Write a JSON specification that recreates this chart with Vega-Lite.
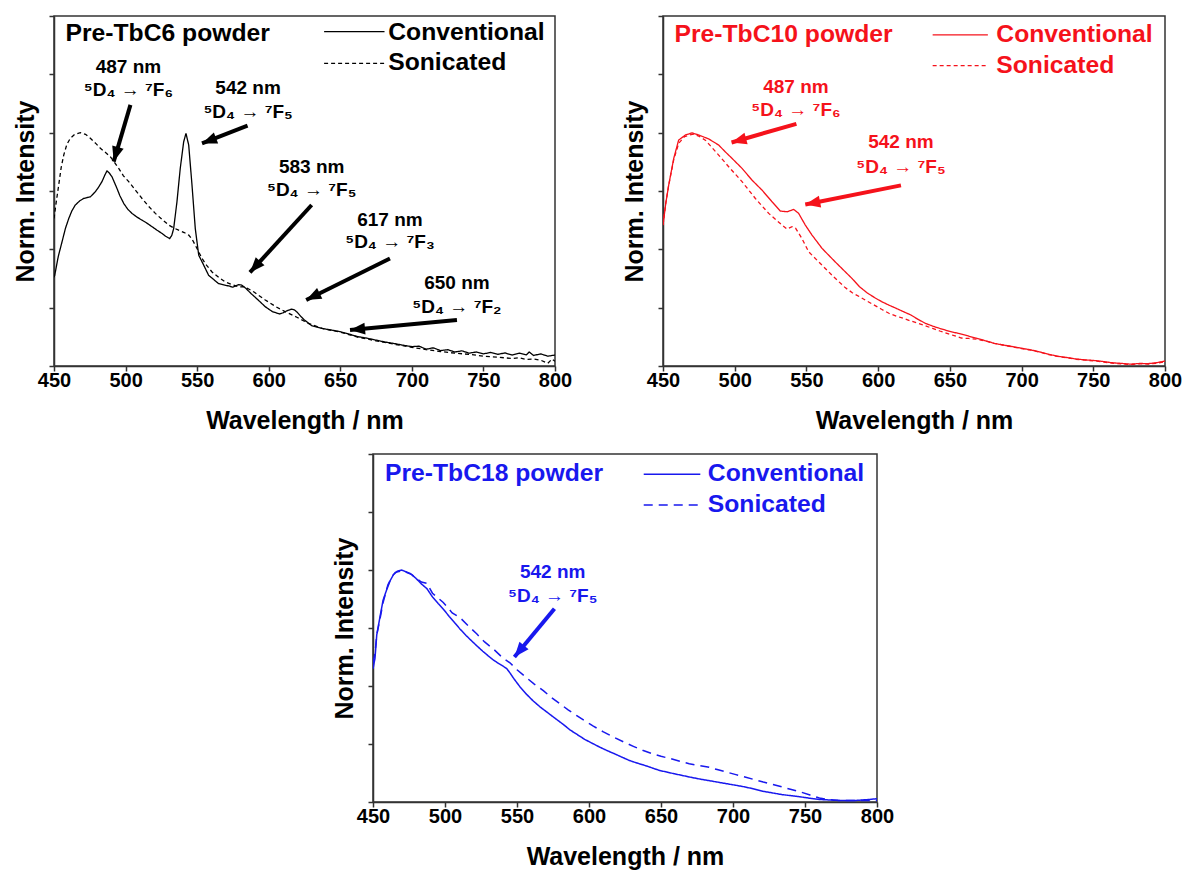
{
  "$schema": "https://vega.github.io/schema/vega-lite/v6.json",
  "padding": {"left": 12, "top": 14, "right": 5, "bottom": 5},
  "config": {
    "font": "Liberation Sans",
    "view": {"stroke": "#333", "strokeWidth": 1.5},
    "axis": {"domainColor": "#333", "domainWidth": 1.5, "tickColor": "#333", "tickWidth": 1.5, "tickSize": 5, "grid": false,
      "labelFont": "Liberation Sans", "labelFontSize": 20, "labelFontWeight": "bold", "labelColor": "#000",
      "titleFont": "Liberation Sans", "titleFontSize": 25, "titleFontWeight": "bold", "titleColor": "#000"},
    "axisX": {"labelPadding": -1, "titlePadding": 18, "labelFlush": false, "labelOverlap": false},
    "axisY": {"titlePadding": 10}
  },
  "datasets": {
    "c6": [
      {"wl":450,"val":0.38,"s":"C"},{"wl":450.5,"val":0.389,"s":"C"},{"wl":453,"val":0.47,"s":"C"},{"wl":455.6,"val":0.532,"s":"C"},{"wl":458,"val":0.59,"s":"C"},{"wl":460.3,"val":0.632,"s":"C"},{"wl":462.5,"val":0.665,"s":"C"},{"wl":464.9,"val":0.69,"s":"C"},{"wl":468,"val":0.708,"s":"C"},{"wl":470.7,"val":0.718,"s":"C"},{"wl":473,"val":0.722,"s":"C"},{"wl":475.4,"val":0.725,"s":"C"},{"wl":477,"val":0.735,"s":"C"},{"wl":478.9,"val":0.747,"s":"C"},{"wl":481,"val":0.765,"s":"C"},{"wl":483.5,"val":0.79,"s":"C"},{"wl":485.5,"val":0.818,"s":"C"},{"wl":487,"val":0.836,"s":"C"},{"wl":488.5,"val":0.828,"s":"C"},{"wl":490.5,"val":0.811,"s":"C"},{"wl":494,"val":0.761,"s":"C"},{"wl":496,"val":0.73,"s":"C"},{"wl":498.7,"val":0.697,"s":"C"},{"wl":501.5,"val":0.672,"s":"C"},{"wl":504.5,"val":0.654,"s":"C"},{"wl":508,"val":0.638,"s":"C"},{"wl":511.5,"val":0.625,"s":"C"},{"wl":515,"val":0.612,"s":"C"},{"wl":518.5,"val":0.597,"s":"C"},{"wl":522,"val":0.582,"s":"C"},{"wl":525.5,"val":0.568,"s":"C"},{"wl":528,"val":0.556,"s":"C"},{"wl":530.8,"val":0.546,"s":"C"},{"wl":532.3,"val":0.56,"s":"C"},{"wl":533.6,"val":0.589,"s":"C"},{"wl":535.9,"val":0.704,"s":"C"},{"wl":538.2,"val":0.847,"s":"C"},{"wl":540.6,"val":0.961,"s":"C"},{"wl":542.2,"val":0.997,"s":"C"},{"wl":544.1,"val":0.947,"s":"C"},{"wl":546.4,"val":0.776,"s":"C"},{"wl":548.7,"val":0.589,"s":"C"},{"wl":551.1,"val":0.475,"s":"C"},{"wl":554.6,"val":0.432,"s":"C"},{"wl":558,"val":0.389,"s":"C"},{"wl":565,"val":0.353,"s":"C"},{"wl":572,"val":0.343,"s":"C"},{"wl":575,"val":0.338,"s":"C"},{"wl":579,"val":0.349,"s":"C"},{"wl":581,"val":0.347,"s":"C"},{"wl":584,"val":0.333,"s":"C"},{"wl":587.6,"val":0.311,"s":"C"},{"wl":592.6,"val":0.283,"s":"C"},{"wl":597.6,"val":0.254,"s":"C"},{"wl":602.6,"val":0.233,"s":"C"},{"wl":607.6,"val":0.223,"s":"C"},{"wl":610,"val":0.228,"s":"C"},{"wl":612.5,"val":0.236,"s":"C"},{"wl":616,"val":0.244,"s":"C"},{"wl":618,"val":0.24,"s":"C"},{"wl":620,"val":0.23,"s":"C"},{"wl":622.5,"val":0.212,"s":"C"},{"wl":625,"val":0.197,"s":"C"},{"wl":630,"val":0.173,"s":"C"},{"wl":637,"val":0.161,"s":"C"},{"wl":643,"val":0.155,"s":"C"},{"wl":650,"val":0.147,"s":"C"},{"wl":656,"val":0.137,"s":"C"},{"wl":662,"val":0.126,"s":"C"},{"wl":668,"val":0.12,"s":"C"},{"wl":675,"val":0.111,"s":"C"},{"wl":681,"val":0.103,"s":"C"},{"wl":687,"val":0.097,"s":"C"},{"wl":693,"val":0.09,"s":"C"},{"wl":700,"val":0.083,"s":"C"},{"wl":705,"val":0.085,"s":"C"},{"wl":710,"val":0.072,"s":"C"},{"wl":715,"val":0.078,"s":"C"},{"wl":720,"val":0.066,"s":"C"},{"wl":725,"val":0.07,"s":"C"},{"wl":730,"val":0.06,"s":"C"},{"wl":735,"val":0.065,"s":"C"},{"wl":740,"val":0.055,"s":"C"},{"wl":745,"val":0.06,"s":"C"},{"wl":750,"val":0.052,"s":"C"},{"wl":755,"val":0.058,"s":"C"},{"wl":760,"val":0.05,"s":"C"},{"wl":765,"val":0.056,"s":"C"},{"wl":770,"val":0.047,"s":"C"},{"wl":775,"val":0.055,"s":"C"},{"wl":780,"val":0.048,"s":"C"},{"wl":782,"val":0.06,"s":"C"},{"wl":785,"val":0.045,"s":"C"},{"wl":790,"val":0.052,"s":"C"},{"wl":795,"val":0.042,"s":"C"},{"wl":800,"val":0.047,"s":"C"},
      {"wl":450,"val":0.632,"s":"S"},{"wl":451.5,"val":0.7,"s":"S"},{"wl":453.3,"val":0.776,"s":"S"},{"wl":455,"val":0.85,"s":"S"},{"wl":456.8,"val":0.904,"s":"S"},{"wl":459,"val":0.95,"s":"S"},{"wl":461.4,"val":0.976,"s":"S"},{"wl":464.5,"val":0.993,"s":"S"},{"wl":468.4,"val":1.0,"s":"S"},{"wl":472,"val":0.993,"s":"S"},{"wl":475.4,"val":0.976,"s":"S"},{"wl":479,"val":0.955,"s":"S"},{"wl":482.4,"val":0.933,"s":"S"},{"wl":486,"val":0.915,"s":"S"},{"wl":489.3,"val":0.897,"s":"S"},{"wl":492,"val":0.875,"s":"S"},{"wl":495.2,"val":0.847,"s":"S"},{"wl":498.5,"val":0.815,"s":"S"},{"wl":502.2,"val":0.79,"s":"S"},{"wl":507,"val":0.753,"s":"S"},{"wl":511.5,"val":0.718,"s":"S"},{"wl":516,"val":0.685,"s":"S"},{"wl":520.8,"val":0.654,"s":"S"},{"wl":525.5,"val":0.628,"s":"S"},{"wl":530.1,"val":0.604,"s":"S"},{"wl":533.5,"val":0.592,"s":"S"},{"wl":537.1,"val":0.582,"s":"S"},{"wl":541,"val":0.572,"s":"S"},{"wl":544.1,"val":0.561,"s":"S"},{"wl":546.5,"val":0.543,"s":"S"},{"wl":548.7,"val":0.518,"s":"S"},{"wl":551,"val":0.49,"s":"S"},{"wl":553.4,"val":0.461,"s":"S"},{"wl":556.8,"val":0.43,"s":"S"},{"wl":560.4,"val":0.403,"s":"S"},{"wl":565,"val":0.38,"s":"S"},{"wl":569.7,"val":0.36,"s":"S"},{"wl":574,"val":0.35,"s":"S"},{"wl":579,"val":0.339,"s":"S"},{"wl":582.7,"val":0.34,"s":"S"},{"wl":586,"val":0.33,"s":"S"},{"wl":590,"val":0.316,"s":"S"},{"wl":597.6,"val":0.283,"s":"S"},{"wl":605,"val":0.254,"s":"S"},{"wl":612.5,"val":0.23,"s":"S"},{"wl":620,"val":0.208,"s":"S"},{"wl":627.6,"val":0.183,"s":"S"},{"wl":637.4,"val":0.161,"s":"S"},{"wl":650,"val":0.145,"s":"S"},{"wl":662,"val":0.124,"s":"S"},{"wl":675,"val":0.108,"s":"S"},{"wl":687,"val":0.094,"s":"S"},{"wl":700,"val":0.08,"s":"S"},{"wl":710,"val":0.07,"s":"S"},{"wl":720,"val":0.062,"s":"S"},{"wl":730,"val":0.055,"s":"S"},{"wl":740,"val":0.05,"s":"S"},{"wl":750,"val":0.042,"s":"S"},{"wl":760,"val":0.038,"s":"S"},{"wl":770,"val":0.032,"s":"S"},{"wl":775,"val":0.035,"s":"S"},{"wl":780,"val":0.028,"s":"S"},{"wl":785,"val":0.03,"s":"S"},{"wl":790,"val":0.025,"s":"S"},{"wl":795,"val":0.012,"s":"S"},{"wl":798,"val":0.03,"s":"S"},{"wl":800,"val":0.02,"s":"S"}
    ],
    "c10": [
      {"wl":450,"val":0.604,"s":"C"},{"wl":452,"val":0.7,"s":"C"},{"wl":454,"val":0.776,"s":"C"},{"wl":457.5,"val":0.89,"s":"C"},{"wl":460.9,"val":0.968,"s":"C"},{"wl":465.6,"val":0.99,"s":"C"},{"wl":470.2,"val":0.999,"s":"C"},{"wl":474.9,"val":0.99,"s":"C"},{"wl":481.9,"val":0.973,"s":"C"},{"wl":488.8,"val":0.947,"s":"C"},{"wl":493.4,"val":0.918,"s":"C"},{"wl":498.1,"val":0.89,"s":"C"},{"wl":505.1,"val":0.847,"s":"C"},{"wl":512,"val":0.797,"s":"C"},{"wl":519,"val":0.754,"s":"C"},{"wl":526,"val":0.704,"s":"C"},{"wl":531.8,"val":0.664,"s":"C"},{"wl":536.5,"val":0.661,"s":"C"},{"wl":541.1,"val":0.671,"s":"C"},{"wl":544.6,"val":0.654,"s":"C"},{"wl":549.2,"val":0.604,"s":"C"},{"wl":553.9,"val":0.561,"s":"C"},{"wl":560.9,"val":0.504,"s":"C"},{"wl":570.1,"val":0.446,"s":"C"},{"wl":581.8,"val":0.375,"s":"C"},{"wl":587,"val":0.34,"s":"C"},{"wl":592.2,"val":0.314,"s":"C"},{"wl":597.3,"val":0.294,"s":"C"},{"wl":602.4,"val":0.276,"s":"C"},{"wl":607.5,"val":0.261,"s":"C"},{"wl":612.6,"val":0.247,"s":"C"},{"wl":617.6,"val":0.233,"s":"C"},{"wl":622.7,"val":0.219,"s":"C"},{"wl":627.8,"val":0.2,"s":"C"},{"wl":632.9,"val":0.183,"s":"C"},{"wl":638,"val":0.171,"s":"C"},{"wl":643,"val":0.161,"s":"C"},{"wl":649,"val":0.15,"s":"C"},{"wl":655.7,"val":0.14,"s":"C"},{"wl":662,"val":0.13,"s":"C"},{"wl":668.4,"val":0.119,"s":"C"},{"wl":675,"val":0.108,"s":"C"},{"wl":681,"val":0.097,"s":"C"},{"wl":687,"val":0.09,"s":"C"},{"wl":693.8,"val":0.083,"s":"C"},{"wl":700,"val":0.076,"s":"C"},{"wl":706.5,"val":0.069,"s":"C"},{"wl":713,"val":0.06,"s":"C"},{"wl":719,"val":0.05,"s":"C"},{"wl":725,"val":0.042,"s":"C"},{"wl":732,"val":0.036,"s":"C"},{"wl":738,"val":0.03,"s":"C"},{"wl":744.6,"val":0.026,"s":"C"},{"wl":750,"val":0.024,"s":"C"},{"wl":757.3,"val":0.019,"s":"C"},{"wl":763,"val":0.014,"s":"C"},{"wl":770,"val":0.011,"s":"C"},{"wl":776,"val":0.008,"s":"C"},{"wl":782.7,"val":0.011,"s":"C"},{"wl":788,"val":0.01,"s":"C"},{"wl":794,"val":0.014,"s":"C"},{"wl":800,"val":0.021,"s":"C"},
      {"wl":450,"val":0.604,"s":"S"},{"wl":452,"val":0.7,"s":"S"},{"wl":454,"val":0.776,"s":"S"},{"wl":457.5,"val":0.885,"s":"S"},{"wl":461,"val":0.955,"s":"S"},{"wl":465,"val":0.983,"s":"S"},{"wl":471,"val":0.994,"s":"S"},{"wl":475,"val":0.985,"s":"S"},{"wl":479.5,"val":0.968,"s":"S"},{"wl":484,"val":0.937,"s":"S"},{"wl":488.8,"val":0.904,"s":"S"},{"wl":495.8,"val":0.854,"s":"S"},{"wl":505.1,"val":0.79,"s":"S"},{"wl":514.4,"val":0.718,"s":"S"},{"wl":523.7,"val":0.654,"s":"S"},{"wl":533,"val":0.604,"s":"S"},{"wl":536.5,"val":0.587,"s":"S"},{"wl":540,"val":0.597,"s":"S"},{"wl":542.5,"val":0.59,"s":"S"},{"wl":546.9,"val":0.546,"s":"S"},{"wl":551.6,"val":0.489,"s":"S"},{"wl":560.9,"val":0.432,"s":"S"},{"wl":569,"val":0.382,"s":"S"},{"wl":577,"val":0.336,"s":"S"},{"wl":582,"val":0.314,"s":"S"},{"wl":587,"val":0.297,"s":"S"},{"wl":592,"val":0.279,"s":"S"},{"wl":597.3,"val":0.261,"s":"S"},{"wl":602.4,"val":0.243,"s":"S"},{"wl":607.5,"val":0.226,"s":"S"},{"wl":612.6,"val":0.214,"s":"S"},{"wl":617.6,"val":0.204,"s":"S"},{"wl":622.7,"val":0.193,"s":"S"},{"wl":627.8,"val":0.183,"s":"S"},{"wl":633,"val":0.172,"s":"S"},{"wl":638,"val":0.161,"s":"S"},{"wl":643,"val":0.15,"s":"S"},{"wl":648,"val":0.14,"s":"S"},{"wl":653,"val":0.13,"s":"S"},{"wl":658,"val":0.12,"s":"S"},{"wl":663,"val":0.118,"s":"S"},{"wl":668.4,"val":0.115,"s":"S"},{"wl":675,"val":0.107,"s":"S"},{"wl":681,"val":0.097,"s":"S"},{"wl":687,"val":0.09,"s":"S"},{"wl":693.8,"val":0.082,"s":"S"},{"wl":700,"val":0.075,"s":"S"},{"wl":706.5,"val":0.068,"s":"S"},{"wl":713,"val":0.059,"s":"S"},{"wl":719,"val":0.049,"s":"S"},{"wl":725,"val":0.041,"s":"S"},{"wl":732,"val":0.035,"s":"S"},{"wl":738,"val":0.029,"s":"S"},{"wl":744.6,"val":0.025,"s":"S"},{"wl":750,"val":0.022,"s":"S"},{"wl":757.3,"val":0.017,"s":"S"},{"wl":763,"val":0.012,"s":"S"},{"wl":770,"val":0.009,"s":"S"},{"wl":776,"val":0.006,"s":"S"},{"wl":782.7,"val":0.01,"s":"S"},{"wl":788,"val":0.008,"s":"S"},{"wl":794,"val":0.012,"s":"S"},{"wl":800,"val":0.018,"s":"S"}
    ],
    "c18": [
      {"wl":450,"val":0.574,"s":"C"},{"wl":451.4,"val":0.62,"s":"C"},{"wl":452.6,"val":0.72,"s":"C"},{"wl":454.9,"val":0.8,"s":"C"},{"wl":457,"val":0.87,"s":"C"},{"wl":459.5,"val":0.915,"s":"C"},{"wl":462,"val":0.955,"s":"C"},{"wl":464.2,"val":0.98,"s":"C"},{"wl":467,"val":0.995,"s":"C"},{"wl":469.9,"val":1.0,"s":"C"},{"wl":475.8,"val":0.985,"s":"C"},{"wl":479.7,"val":0.965,"s":"C"},{"wl":483.6,"val":0.94,"s":"C"},{"wl":487.4,"val":0.92,"s":"C"},{"wl":491.3,"val":0.884,"s":"C"},{"wl":495.2,"val":0.856,"s":"C"},{"wl":499,"val":0.83,"s":"C"},{"wl":502.9,"val":0.8,"s":"C"},{"wl":506.8,"val":0.772,"s":"C"},{"wl":510.5,"val":0.745,"s":"C"},{"wl":514.6,"val":0.718,"s":"C"},{"wl":518.4,"val":0.695,"s":"C"},{"wl":522.3,"val":0.672,"s":"C"},{"wl":526.2,"val":0.65,"s":"C"},{"wl":530,"val":0.63,"s":"C"},{"wl":534,"val":0.61,"s":"C"},{"wl":537.8,"val":0.595,"s":"C"},{"wl":540.5,"val":0.585,"s":"C"},{"wl":543,"val":0.574,"s":"C"},{"wl":545.5,"val":0.553,"s":"C"},{"wl":548,"val":0.53,"s":"C"},{"wl":552,"val":0.497,"s":"C"},{"wl":556.5,"val":0.465,"s":"C"},{"wl":561,"val":0.437,"s":"C"},{"wl":566,"val":0.41,"s":"C"},{"wl":571.3,"val":0.385,"s":"C"},{"wl":576.6,"val":0.36,"s":"C"},{"wl":582,"val":0.335,"s":"C"},{"wl":587,"val":0.31,"s":"C"},{"wl":592,"val":0.29,"s":"C"},{"wl":597,"val":0.27,"s":"C"},{"wl":602.3,"val":0.253,"s":"C"},{"wl":607.6,"val":0.236,"s":"C"},{"wl":612.8,"val":0.221,"s":"C"},{"wl":618,"val":0.207,"s":"C"},{"wl":623,"val":0.193,"s":"C"},{"wl":628,"val":0.179,"s":"C"},{"wl":633.3,"val":0.168,"s":"C"},{"wl":638.6,"val":0.158,"s":"C"},{"wl":643.8,"val":0.147,"s":"C"},{"wl":649,"val":0.136,"s":"C"},{"wl":654,"val":0.129,"s":"C"},{"wl":659,"val":0.122,"s":"C"},{"wl":664.3,"val":0.115,"s":"C"},{"wl":669.6,"val":0.108,"s":"C"},{"wl":676,"val":0.1,"s":"C"},{"wl":682.5,"val":0.093,"s":"C"},{"wl":689,"val":0.086,"s":"C"},{"wl":695.4,"val":0.079,"s":"C"},{"wl":702,"val":0.072,"s":"C"},{"wl":708.3,"val":0.065,"s":"C"},{"wl":714.6,"val":0.056,"s":"C"},{"wl":721,"val":0.046,"s":"C"},{"wl":727.5,"val":0.039,"s":"C"},{"wl":734,"val":0.032,"s":"C"},{"wl":740.5,"val":0.027,"s":"C"},{"wl":747,"val":0.022,"s":"C"},{"wl":753.5,"val":0.016,"s":"C"},{"wl":760,"val":0.011,"s":"C"},{"wl":766.5,"val":0.009,"s":"C"},{"wl":773,"val":0.007,"s":"C"},{"wl":779.5,"val":0.006,"s":"C"},{"wl":785.8,"val":0.007,"s":"C"},{"wl":793,"val":0.01,"s":"C"},{"wl":800,"val":0.014,"s":"C"},
      {"wl":450,"val":0.6,"s":"S"},{"wl":451.4,"val":0.64,"s":"S"},{"wl":452.6,"val":0.72,"s":"S"},{"wl":454.9,"val":0.79,"s":"S"},{"wl":457,"val":0.86,"s":"S"},{"wl":460.3,"val":0.935,"s":"S"},{"wl":463,"val":0.97,"s":"S"},{"wl":465.5,"val":0.99,"s":"S"},{"wl":470.7,"val":0.997,"s":"S"},{"wl":477,"val":0.98,"s":"S"},{"wl":483.6,"val":0.948,"s":"S"},{"wl":487.3,"val":0.943,"s":"S"},{"wl":491.3,"val":0.9,"s":"S"},{"wl":498.8,"val":0.86,"s":"S"},{"wl":505,"val":0.815,"s":"S"},{"wl":510.4,"val":0.795,"s":"S"},{"wl":516,"val":0.76,"s":"S"},{"wl":522,"val":0.725,"s":"S"},{"wl":527.5,"val":0.69,"s":"S"},{"wl":533.5,"val":0.66,"s":"S"},{"wl":540,"val":0.622,"s":"S"},{"wl":545.1,"val":0.6,"s":"S"},{"wl":550,"val":0.57,"s":"S"},{"wl":556.7,"val":0.535,"s":"S"},{"wl":562,"val":0.508,"s":"S"},{"wl":568.3,"val":0.48,"s":"S"},{"wl":574,"val":0.45,"s":"S"},{"wl":579.9,"val":0.423,"s":"S"},{"wl":585.5,"val":0.397,"s":"S"},{"wl":591.5,"val":0.372,"s":"S"},{"wl":597,"val":0.35,"s":"S"},{"wl":603,"val":0.327,"s":"S"},{"wl":610,"val":0.302,"s":"S"},{"wl":616.9,"val":0.28,"s":"S"},{"wl":624.4,"val":0.258,"s":"S"},{"wl":630.8,"val":0.24,"s":"S"},{"wl":637.2,"val":0.223,"s":"S"},{"wl":643.7,"val":0.209,"s":"S"},{"wl":650,"val":0.197,"s":"S"},{"wl":656.6,"val":0.187,"s":"S"},{"wl":663,"val":0.176,"s":"S"},{"wl":669.6,"val":0.165,"s":"S"},{"wl":676,"val":0.158,"s":"S"},{"wl":682.5,"val":0.151,"s":"S"},{"wl":689,"val":0.14,"s":"S"},{"wl":695.4,"val":0.129,"s":"S"},{"wl":702,"val":0.118,"s":"S"},{"wl":708.3,"val":0.108,"s":"S"},{"wl":714.6,"val":0.097,"s":"S"},{"wl":721,"val":0.086,"s":"S"},{"wl":727.5,"val":0.076,"s":"S"},{"wl":734,"val":0.065,"s":"S"},{"wl":740.5,"val":0.054,"s":"S"},{"wl":747,"val":0.043,"s":"S"},{"wl":753.5,"val":0.03,"s":"S"},{"wl":760,"val":0.017,"s":"S"},{"wl":766.5,"val":0.01,"s":"S"},{"wl":773,"val":0.007,"s":"S"},{"wl":786,"val":0.006,"s":"S"},{"wl":800,"val":0.007,"s":"S"}
    ],
    "leg": [
      {"p":1,"s":"C","wl":638.7,"wl2":680.9,"val":1.433},{"p":1,"s":"S","wl":638.7,"wl2":680.9,"val":1.297},
      {"p":2,"s":"C","wl":638,"wl2":676.5,"val":1.419},{"p":2,"s":"S","wl":638,"wl2":676.5,"val":1.287},
      {"p":3,"s":"C","wl":638,"wl2":677.3,"val":1.413},{"p":3,"s":"S","wl":638,"wl2":677.3,"val":1.28}
    ],
    "ann": [
      {"p":1,"k":"head","wl":458,"val":1.423,"t":"Pre-TbC6 powder"},
      {"p":1,"k":"head","wl":683.5,"val":1.428,"t":"Conventional"},
      {"p":1,"k":"head","wl":683.5,"val":1.297,"t":"Sonicated"},
      {"p":1,"k":"note","wl":502,"val":1.283,"t":"487 nm"},
      {"p":1,"k":"note","wl":502,"val":1.183,"t":"⁵D₄ → ⁷F₆"},
      {"p":1,"k":"note","wl":585.6,"val":1.193,"t":"542 nm"},
      {"p":1,"k":"note","wl":585.6,"val":1.09,"t":"⁵D₄ → ⁷F₅"},
      {"p":1,"k":"note","wl":630,"val":0.851,"t":"583 nm"},
      {"p":1,"k":"note","wl":630,"val":0.754,"t":"⁵D₄ → ⁷F₅"},
      {"p":1,"k":"note","wl":684.7,"val":0.626,"t":"617 nm"},
      {"p":1,"k":"note","wl":684.7,"val":0.53,"t":"⁵D₄ → ⁷F₃"},
      {"p":1,"k":"note","wl":731.5,"val":0.354,"t":"650 nm"},
      {"p":1,"k":"note","wl":731.5,"val":0.254,"t":"⁵D₄ → ⁷F₂"},
      {"p":2,"k":"head","wl":458,"val":1.419,"t":"Pre-TbC10 powder"},
      {"p":2,"k":"head","wl":682.4,"val":1.419,"t":"Conventional"},
      {"p":2,"k":"head","wl":682.4,"val":1.287,"t":"Sonicated"},
      {"p":2,"k":"note","wl":542.7,"val":1.197,"t":"487 nm"},
      {"p":2,"k":"note","wl":542.7,"val":1.097,"t":"⁵D₄ → ⁷F₆"},
      {"p":2,"k":"note","wl":615.9,"val":0.959,"t":"542 nm"},
      {"p":2,"k":"note","wl":615.9,"val":0.854,"t":"⁵D₄ → ⁷F₅"},
      {"p":3,"k":"head","wl":458.3,"val":1.413,"t":"Pre-TbC18 powder"},
      {"p":3,"k":"head","wl":682.5,"val":1.413,"t":"Conventional"},
      {"p":3,"k":"head","wl":682.5,"val":1.28,"t":"Sonicated"},
      {"p":3,"k":"note","wl":574.8,"val":0.993,"t":"542 nm"},
      {"p":3,"k":"note","wl":574.8,"val":0.887,"t":"⁵D₄ → ⁷F₅"}
    ],
    "arr": [
      {"p":1,"id":"a1","wl":503.4,"val":1.119,"wl2":491.7,"val2":0.876},
      {"p":1,"id":"a2","wl":585.2,"val":1.03,"wl2":553.4,"val2":0.954},
      {"p":1,"id":"a3","wl":630,"val":0.69,"wl2":586.9,"val2":0.401},
      {"p":1,"id":"a4","wl":684.7,"val":0.461,"wl2":626.2,"val2":0.283},
      {"p":1,"id":"a5","wl":731.5,"val":0.197,"wl2":656.8,"val2":0.154},
      {"p":2,"id":"b1","wl":543,"val":1.038,"wl2":497.8,"val2":0.958},
      {"p":2,"id":"b2","wl":615.9,"val":0.774,"wl2":549.2,"val2":0.692},
      {"p":3,"id":"c1","wl":576,"val":0.833,"wl2":548.2,"val2":0.625}
    ]
  },
  "spacing": 18,
  "resolve": {"scale": {"strokeDash": "independent"}},
  "vconcat": [
    {
      "resolve": {"scale": {"strokeDash": "independent"}},
      "hconcat": [
        {
          "width": 501, "height": 350,
          "layer": [
            {"data": {"name": "c6"}, "mark": {"type": "line", "color": "#000", "strokeWidth": 1.3, "clip": true},
             "encoding": {
               "x": {"field": "wl", "type": "quantitative", "scale": {"domain": [450, 800], "nice": false, "zero": false},
                     "axis": {"title": "Wavelength / nm", "values": [450,475,500,525,550,575,600,625,650,675,700,725,750,775,800], "labelExpr": "datum.value % 50 == 0 ? datum.label : ''"}},
               "y": {"field": "val", "type": "quantitative", "scale": {"domain": [0, 1.5], "nice": false},
                     "axis": {"title": "Norm. Intensity", "values": [0,0.25,0.5,0.75,1,1.25,1.5], "labels": false}},
               "strokeDash": {"field": "s", "type": "nominal", "scale": {"domain": ["C","S"], "range": [[1,0],[4,3]]}, "legend": null}}},
            {"data": {"name": "leg"}, "transform": [{"filter": "datum.p == 1"}], "mark": {"type": "rule", "color": "#000", "strokeWidth": 1.3},
             "encoding": {"x": {"field": "wl", "type": "quantitative"}, "x2": {"field": "wl2"}, "y": {"field": "val", "type": "quantitative"},
               "strokeDash": {"field": "s", "type": "nominal", "legend": null}}},
            {"data": {"name": "ann"}, "transform": [{"filter": "datum.p == 1 && datum.k == 'head'"}],
             "mark": {"type": "text", "align": "left", "baseline": "middle", "fontSize": 24.7, "fontWeight": "bold", "color": "#000"},
             "encoding": {"x": {"field": "wl", "type": "quantitative"}, "y": {"field": "val", "type": "quantitative"}, "text": {"field": "t"}}},
            {"data": {"name": "ann"}, "transform": [{"filter": "datum.p == 1 && datum.k == 'note'"}],
             "mark": {"type": "text", "align": "center", "baseline": "middle", "fontSize": 19, "fontWeight": "bold", "color": "#000"},
             "encoding": {"x": {"field": "wl", "type": "quantitative"}, "y": {"field": "val", "type": "quantitative"}, "text": {"field": "t"}}},
            {"data": {"name": "arr"}, "transform": [{"filter": "datum.p == 1"}], "mark": {"type": "rule", "color": "#000", "strokeWidth": 4},
             "encoding": {"x": {"field": "wl", "type": "quantitative"}, "y": {"field": "val", "type": "quantitative"}, "x2": {"field": "wl2"}, "y2": {"field": "val2"}}},
            {"data": {"name": "arr"}, "transform": [{"filter": "datum.id == 'a1'"}], "mark": {"type": "point", "shape": "M0,0L-0.75,1.9L0.75,1.9Z", "filled": true, "size": 250, "angle": 196.4, "color": "#000", "opacity": 1},
             "encoding": {"x": {"field": "wl2", "type": "quantitative"}, "y": {"field": "val2", "type": "quantitative"}}},
            {"data": {"name": "arr"}, "transform": [{"filter": "datum.id == 'a2'"}], "mark": {"type": "point", "shape": "M0,0L-0.75,1.9L0.75,1.9Z", "filled": true, "size": 250, "angle": 248.7, "color": "#000", "opacity": 1},
             "encoding": {"x": {"field": "wl2", "type": "quantitative"}, "y": {"field": "val2", "type": "quantitative"}}},
            {"data": {"name": "arr"}, "transform": [{"filter": "datum.id == 'a3'"}], "mark": {"type": "point", "shape": "M0,0L-0.75,1.9L0.75,1.9Z", "filled": true, "size": 250, "angle": 222.5, "color": "#000", "opacity": 1},
             "encoding": {"x": {"field": "wl2", "type": "quantitative"}, "y": {"field": "val2", "type": "quantitative"}}},
            {"data": {"name": "arr"}, "transform": [{"filter": "datum.id == 'a4'"}], "mark": {"type": "point", "shape": "M0,0L-0.75,1.9L0.75,1.9Z", "filled": true, "size": 250, "angle": 243.7, "color": "#000", "opacity": 1},
             "encoding": {"x": {"field": "wl2", "type": "quantitative"}, "y": {"field": "val2", "type": "quantitative"}}},
            {"data": {"name": "arr"}, "transform": [{"filter": "datum.id == 'a5'"}], "mark": {"type": "point", "shape": "M0,0L-0.75,1.9L0.75,1.9Z", "filled": true, "size": 250, "angle": 264.7, "color": "#000", "opacity": 1},
             "encoding": {"x": {"field": "wl2", "type": "quantitative"}, "y": {"field": "val2", "type": "quantitative"}}}
          ]
        },
        {
          "width": 502, "height": 350,
          "layer": [
            {"data": {"name": "c10"}, "mark": {"type": "line", "color": "#f5121b", "strokeWidth": 1.3, "clip": true},
             "encoding": {
               "x": {"field": "wl", "type": "quantitative", "scale": {"domain": [450, 800], "nice": false, "zero": false},
                     "axis": {"title": "Wavelength / nm", "values": [450,475,500,525,550,575,600,625,650,675,700,725,750,775,800], "labelExpr": "datum.value % 50 == 0 ? datum.label : ''"}},
               "y": {"field": "val", "type": "quantitative", "scale": {"domain": [0, 1.5], "nice": false},
                     "axis": {"title": "Norm. Intensity", "values": [0,0.25,0.5,0.75,1,1.25,1.5], "labels": false}},
               "strokeDash": {"field": "s", "type": "nominal", "scale": {"domain": ["C","S"], "range": [[1,0],[4,3]]}, "legend": null}}},
            {"data": {"name": "leg"}, "transform": [{"filter": "datum.p == 2"}], "mark": {"type": "rule", "color": "#f5121b", "strokeWidth": 1.3},
             "encoding": {"x": {"field": "wl", "type": "quantitative"}, "x2": {"field": "wl2"}, "y": {"field": "val", "type": "quantitative"},
               "strokeDash": {"field": "s", "type": "nominal", "legend": null}}},
            {"data": {"name": "ann"}, "transform": [{"filter": "datum.p == 2 && datum.k == 'head'"}],
             "mark": {"type": "text", "align": "left", "baseline": "middle", "fontSize": 24.7, "fontWeight": "bold", "color": "#f5121b"},
             "encoding": {"x": {"field": "wl", "type": "quantitative"}, "y": {"field": "val", "type": "quantitative"}, "text": {"field": "t"}}},
            {"data": {"name": "ann"}, "transform": [{"filter": "datum.p == 2 && datum.k == 'note'"}],
             "mark": {"type": "text", "align": "center", "baseline": "middle", "fontSize": 19, "fontWeight": "bold", "color": "#f5121b"},
             "encoding": {"x": {"field": "wl", "type": "quantitative"}, "y": {"field": "val", "type": "quantitative"}, "text": {"field": "t"}}},
            {"data": {"name": "arr"}, "transform": [{"filter": "datum.p == 2"}], "mark": {"type": "rule", "color": "#f5121b", "strokeWidth": 4},
             "encoding": {"x": {"field": "wl", "type": "quantitative"}, "y": {"field": "val", "type": "quantitative"}, "x2": {"field": "wl2"}, "y2": {"field": "val2"}}},
            {"data": {"name": "arr"}, "transform": [{"filter": "datum.id == 'b1'"}], "mark": {"type": "point", "shape": "M0,0L-0.75,1.9L0.75,1.9Z", "filled": true, "size": 250, "angle": 254.6, "color": "#f5121b", "opacity": 1},
             "encoding": {"x": {"field": "wl2", "type": "quantitative"}, "y": {"field": "val2", "type": "quantitative"}}},
            {"data": {"name": "arr"}, "transform": [{"filter": "datum.id == 'b2'"}], "mark": {"type": "point", "shape": "M0,0L-0.75,1.9L0.75,1.9Z", "filled": true, "size": 250, "angle": 259, "color": "#f5121b", "opacity": 1},
             "encoding": {"x": {"field": "wl2", "type": "quantitative"}, "y": {"field": "val2", "type": "quantitative"}}}
          ]
        }
      ],
      "spacing": 108,
      "bounds": "flush"
    },
    {
      "resolve": {"scale": {"strokeDash": "independent"}},
      "hconcat": [
        {"width": 319, "height": 348, "view": {"stroke": "transparent"}, "data": {"values": []}, "mark": "rule", "encoding": {}},
        {
          "width": 504, "height": 348,
          "layer": [
            {"data": {"name": "c18"}, "mark": {"type": "line", "color": "#1818ee", "strokeWidth": 1.5, "clip": true},
             "encoding": {
               "x": {"field": "wl", "type": "quantitative", "scale": {"domain": [450, 800], "nice": false, "zero": false},
                     "axis": {"title": "Wavelength / nm", "values": [450,475,500,525,550,575,600,625,650,675,700,725,750,775,800], "labelExpr": "datum.value % 50 == 0 ? datum.label : ''"}},
               "y": {"field": "val", "type": "quantitative", "scale": {"domain": [0, 1.5], "nice": false},
                     "axis": {"title": "Norm. Intensity", "values": [0,0.25,0.5,0.75,1,1.25,1.5], "labels": false}},
               "strokeDash": {"field": "s", "type": "nominal", "scale": {"domain": ["C","S"], "range": [[1,0],[9,6]]}, "legend": null}}},
            {"data": {"name": "leg"}, "transform": [{"filter": "datum.p == 3"}], "mark": {"type": "rule", "color": "#1818ee", "strokeWidth": 1.5},
             "encoding": {"x": {"field": "wl", "type": "quantitative"}, "x2": {"field": "wl2"}, "y": {"field": "val", "type": "quantitative"},
               "strokeDash": {"field": "s", "type": "nominal", "legend": null}}},
            {"data": {"name": "ann"}, "transform": [{"filter": "datum.p == 3 && datum.k == 'head'"}],
             "mark": {"type": "text", "align": "left", "baseline": "middle", "fontSize": 24.7, "fontWeight": "bold", "color": "#1818ee"},
             "encoding": {"x": {"field": "wl", "type": "quantitative"}, "y": {"field": "val", "type": "quantitative"}, "text": {"field": "t"}}},
            {"data": {"name": "ann"}, "transform": [{"filter": "datum.p == 3 && datum.k == 'note'"}],
             "mark": {"type": "text", "align": "center", "baseline": "middle", "fontSize": 19, "fontWeight": "bold", "color": "#1818ee"},
             "encoding": {"x": {"field": "wl", "type": "quantitative"}, "y": {"field": "val", "type": "quantitative"}, "text": {"field": "t"}}},
            {"data": {"name": "arr"}, "transform": [{"filter": "datum.p == 3"}], "mark": {"type": "rule", "color": "#1818ee", "strokeWidth": 4},
             "encoding": {"x": {"field": "wl", "type": "quantitative"}, "y": {"field": "val", "type": "quantitative"}, "x2": {"field": "wl2"}, "y2": {"field": "val2"}}},
            {"data": {"name": "arr"}, "transform": [{"filter": "datum.id == 'c1'"}], "mark": {"type": "point", "shape": "M0,0L-0.75,1.9L0.75,1.9Z", "filled": true, "size": 250, "angle": 219.8, "color": "#1818ee", "opacity": 1},
             "encoding": {"x": {"field": "wl2", "type": "quantitative"}, "y": {"field": "val2", "type": "quantitative"}}}
          ]
        }
      ],
      "spacing": 0,
      "bounds": "flush"
    }
  ]
}
